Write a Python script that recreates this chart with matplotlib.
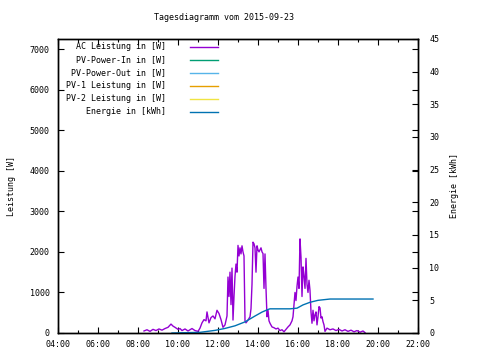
import matplotlib
matplotlib.use('Agg')
import matplotlib.pyplot as plt

# Tagesdiagramm 2015-09-23, values

ac_time = ['08:18', '08:27', '08:36', '08:45', '08:54', '09:03', '09:12', '09:21', '09:30', '09:39',
           '09:45', '09:51', '10:00', '10:06', '10:12', '10:21', '10:30', '10:36', '10:42', '10:51',
           '11:00', '11:06', '11:12', '11:18', '11:24', '11:27', '11:33', '11:39', '11:45', '11:51',
           '11:57', '12:03', '12:09', '12:15', '12:21', '12:27', '12:30', '12:33', '12:36', '12:39',
           '12:42', '12:45', '12:48', '12:51', '12:54', '12:57', '13:00', '13:03', '13:06', '13:09',
           '13:12', '13:15', '13:18', '13:21', '13:24', '13:30', '13:36', '13:39', '13:42', '13:45',
           '13:48', '13:51', '13:54', '13:57', '14:00', '14:03', '14:06', '14:09', '14:12', '14:15',
           '14:18', '14:21', '14:24', '14:27', '14:30', '14:33', '14:36', '14:42', '14:48', '14:54',
           '15:00', '15:06', '15:12', '15:18', '15:24', '15:30', '15:36', '15:42', '15:45', '15:48',
           '15:51', '15:54', '15:57', '16:00', '16:03', '16:06', '16:09', '16:12', '16:15', '16:18',
           '16:21', '16:24', '16:27', '16:30', '16:33', '16:36', '16:39', '16:42', '16:45', '16:48',
           '16:51', '16:54', '16:57', '17:00', '17:03', '17:06', '17:09', '17:12', '17:15', '17:18',
           '17:21', '17:27', '17:36', '17:45', '17:54', '18:03', '18:12', '18:21', '18:30', '18:39',
           '18:48', '18:57', '19:06', '19:15', '19:21']
ac_power = [50, 80, 40, 90, 60, 100, 70, 110, 140, 220,
            170, 140, 90, 110, 60, 100, 50, 80, 110, 60,
            40, 120, 250, 330, 300, 520, 250, 380, 420, 350,
            560, 480, 330, 140, 200, 420, 1380, 900, 1500, 700,
            1600, 320, 900, 1400, 1700, 1500, 2160, 1900, 2100, 1950,
            2150, 2000, 1900, 300, 250, 320, 400, 600, 1200, 2240,
            2200, 2100, 1500, 2150, 2050, 2000, 2050, 2100, 2000, 1960,
            1100, 1950, 1100, 400, 560, 300, 240, 150, 130, 100,
            120, 60, 80, 30, 90, 150, 200, 300, 400, 700,
            1000, 800, 1150, 1380, 1100, 2320, 1870, 900, 1630, 1400,
            1100, 1840, 1200, 1000, 1300, 1050, 520, 240, 560, 300,
            450, 520, 200, 400, 650, 620, 370, 400, 280, 200,
            40, 120, 80, 100, 60, 90, 50, 80, 40, 70,
            30, 60, 20, 50, 10]

energy_time = ['09:42', '11:06', '11:21', '11:51', '12:21', '12:51', '13:21', '13:51', '14:12', '14:30',
               '14:36', '15:36', '15:57', '16:15', '16:36', '17:00', '17:36', '19:45']
energy_kwh = [0.0, 0.1, 0.2, 0.4, 0.7, 1.1, 1.7, 2.6, 3.2, 3.6,
              3.7, 3.7, 3.8, 4.3, 4.7, 5.0, 5.2, 5.2]

xtick_labels = ['04:00', '06:00', '08:00', '10:00', '12:00', '14:00', '16:00', '18:00', '20:00', '22:00']
legend_labels = ['AC Leistung in [W]', 'PV-Power-In in [W]', 'PV-Power-Out in [W]',
                 'PV-1 Leistung in [W]', 'PV-2 Leistung in [W]', 'Energie in [kWh]']
colors = ['#9400d3', '#009e73', '#56b4e9', '#e69f00', '#f0e442', '#0072b2']


def hours(s):
    h, m = s.split(':')
    return int(h) + int(m) / 60.0


FONT = {'family': 'DejaVu Sans Mono', 'size': 6}

fig = plt.figure(figsize=(4.8, 3.6), dpi=100)
ax = fig.add_axes([58 / 480, 27 / 360, 360 / 480, 294 / 360])
ax2 = ax.twinx()

ax.plot([hours(t) for t in ac_time], ac_power, color=colors[0], lw=1.0)
ax2.plot([hours(t) for t in energy_time], energy_kwh, color=colors[5], lw=1.0)

ax.set_xlim(4, 22)
ax.set_ylim(0, 7250)
ax2.set_ylim(0, 45)

ax.set_xticks([hours(t) for t in xtick_labels])
ax.set_xticklabels(xtick_labels, fontdict=FONT)
ax.set_xticks(range(5, 22, 2), minor=True)
ax.set_yticks(range(0, 7001, 1000))
ax.set_yticklabels([str(v) for v in range(0, 7001, 1000)], fontdict=FONT)
ax2.set_yticks(range(0, 46, 5))
ax2.set_yticklabels([str(v) for v in range(0, 46, 5)], fontdict=FONT)

ax.tick_params(axis='both', which='major', direction='in', length=4, width=0.8,
               top=True, right=True, pad=6)
ax.tick_params(axis='x', which='minor', direction='in', length=2.5, width=0.8, top=True)
ax.tick_params(axis='x', which='major', pad=5)
ax2.tick_params(axis='y', direction='in', length=4, width=0.8, pad=8)

for a in (ax, ax2):
    for sp in a.spines.values():
        sp.set_linewidth(1.0)

ax.set_ylabel('Leistung [W]', fontdict=FONT, labelpad=10)
ax2.set_ylabel('Energie [kWh]', fontdict=FONT, labelpad=8)
fig.text(224 / 480, 1 - 17 / 360, 'Tagesdiagramm vom 2015-09-23', ha='center', va='center', **FONT)

# gnuplot style key: right aligned text, sample line to the right
for i, (lab, col) in enumerate(zip(legend_labels, colors)):
    y = 1 - (46.5 + 13 * i) / 360
    fig.text(166 / 480, y, lab, ha='right', va='center', **FONT)
    fig.add_artist(plt.Line2D([190 / 480, 218 / 480], [y, y], color=col, lw=1.0,
                              transform=fig.transFigure))

fig.savefig('out.png', dpi=100)
